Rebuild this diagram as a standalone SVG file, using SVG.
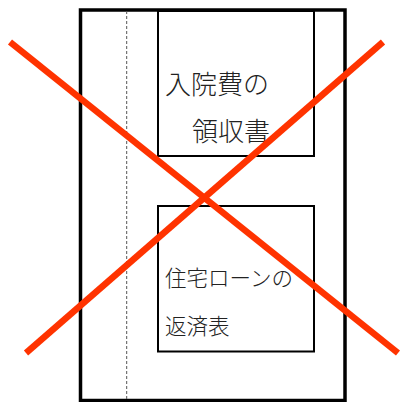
<svg xmlns="http://www.w3.org/2000/svg" width="400" height="402" viewBox="0 0 400 402">
<style>
.box{fill:none;stroke:#000;stroke-width:2}
.t{font-family:"Noto Sans CJK JP","Noto Sans CJK SC",sans-serif;fill:#222;font-weight:300}
.x{stroke:#FF3300;stroke-width:6.5;stroke-linecap:butt}
</style>
<rect width="400" height="402" fill="#fff"/>
<g id="frame">
<rect x="80.5" y="10" width="264.5" height="390.5" fill="none" stroke="#000" stroke-width="3.5"/>
<line x1="126.7" y1="11" x2="126.7" y2="400" stroke="#555" stroke-width="1" stroke-dasharray="3,2"/>
</g>
<g id="receipt">
<rect class="box" x="158" y="11" width="156" height="145"/>
<text class="t" x="165" y="94" font-size="26">入院費の</text>
<text class="t" x="192" y="141" font-size="26">領収書</text>
</g>
<g id="loan">
<rect class="box" x="158" y="206" width="156" height="145.5"/>
<text class="t" x="165" y="286" font-size="21.5">住宅ローンの</text>
<text class="t" x="165" y="334" font-size="21.5">返済表</text>
</g>
<g id="connectors">
<line class="x" x1="10" y1="42" x2="398" y2="353"/>
<line class="x" x1="383" y1="42" x2="26" y2="353"/>
</g>
</svg>
